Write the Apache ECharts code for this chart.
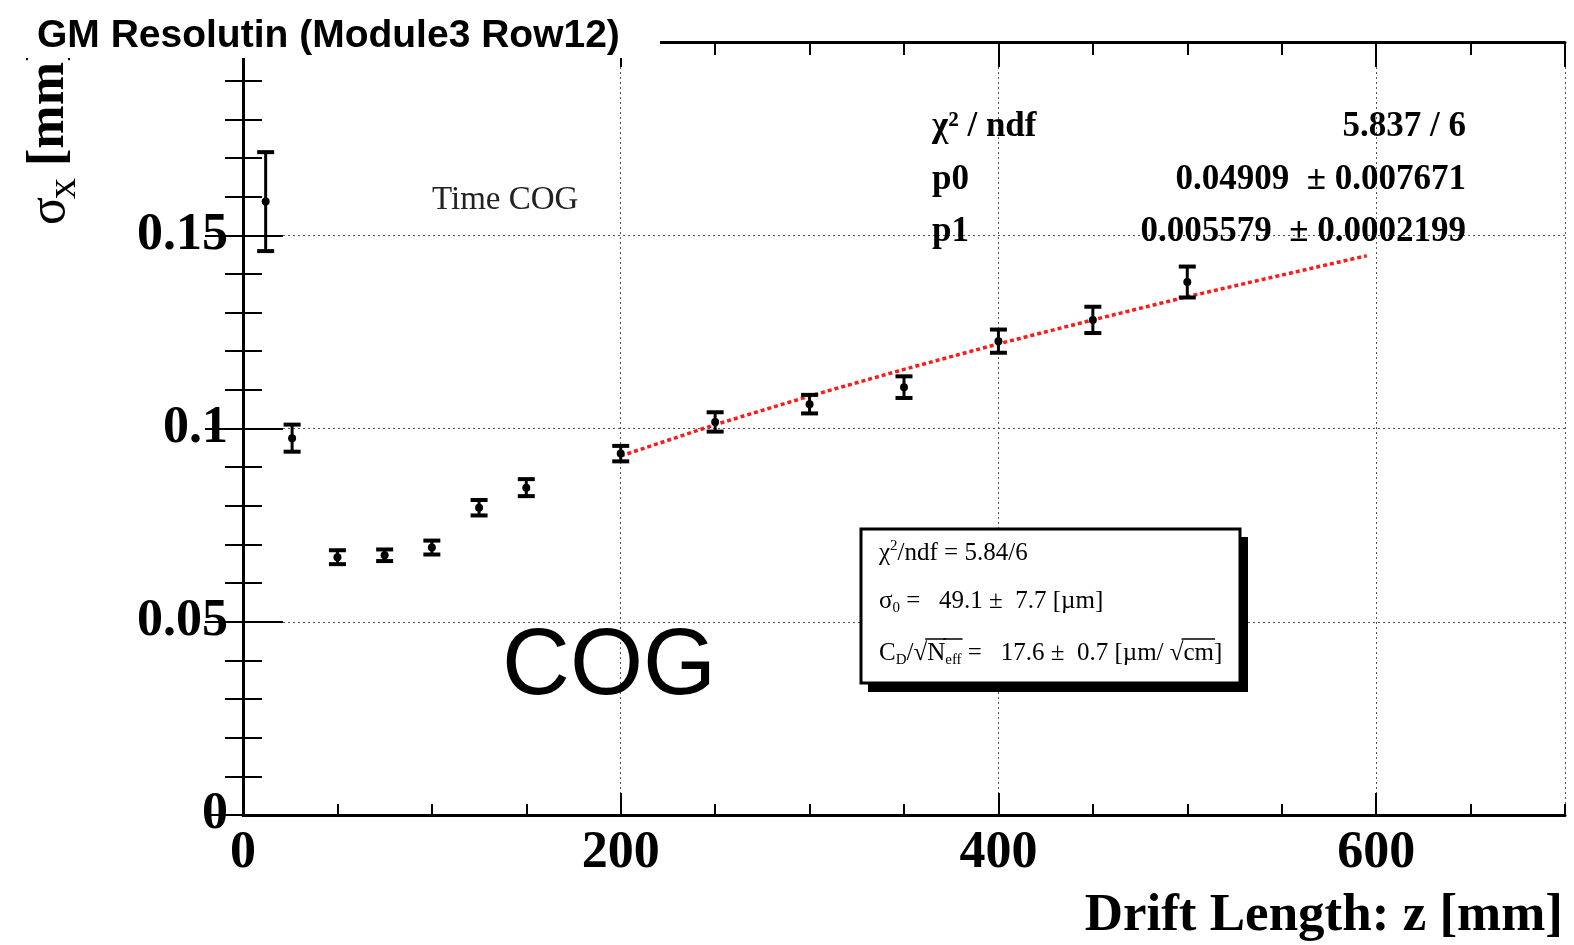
<!DOCTYPE html>
<html>
<head>
<meta charset="utf-8">
<script src="https://cdn.jsdelivr.net/npm/echarts@6/dist/echarts.min.js"></script>
<style>html,body{margin:0;padding:0;background:#fff;}#c{width:1574px;height:945px;}</style>
</head>
<body>
<div id="c"></div>
<script>
// ---- data ----
const driftLength = [12, 26, 50, 75, 100, 125, 150, 200, 250, 300, 350, 400, 450, 500];
const sigmaX      = [0.1587, 0.0975, 0.0667, 0.0672, 0.0692, 0.0795, 0.0847, 0.0935, 0.1017, 0.1063, 0.1107, 0.1226, 0.1281, 0.1379];
const sigmaErr    = [0.0128, 0.0035, 0.0018, 0.0015, 0.0018, 0.0020, 0.0022, 0.0020, 0.0025, 0.0024, 0.0028, 0.0030, 0.0034, 0.0040];
const fitZ        = [200, 250, 300, 350, 400, 450, 500, 550, 595];
const fitSigma    = [0.0929, 0.1010, 0.1084, 0.1153, 0.1219, 0.1281, 0.1341, 0.1397, 0.1447];
const statsNames  = ['χ² / ndf', 'p0', 'p1'];
const statsValues = ['5.837 / 6', '0.04909  ± 0.007671', '0.005579  ± 0.0002199'];
const titleText   = 'GM Resolutin (Module3 Row12)';
const xAxisName   = 'Drift Length: z [mm]';

const chart = echarts.init(document.getElementById('c'));
const SERIF = "'Liberation Serif', 'DejaVu Serif', serif";
const tickStyle = {color: '#000', width: 2};
const gridLine = {show: true, lineStyle: {type: [2, 3], color: '#555', width: 1}};
const labelStyle = {color: '#000', fontFamily: SERIF, fontWeight: 'bold', fontSize: 52};

const errData = driftLength.map((x, i) => [x, sigmaX[i], sigmaErr[i]]);
const fitData = fitZ.map((x, i) => [x, fitSigma[i]]);

// text measurement for laying out formula pieces
const mctx = document.createElement('canvas').getContext('2d');
function fontOf(size) { return size + "px 'Liberation Serif'"; }
function measure(t, size) { mctx.font = fontOf(size); return mctx.measureText(t).width; }
// segments: [text, size, dy, overline]
function formulaRun(x0, y, segs) {
  const out = [];
  let x = x0;
  segs.forEach(s => {
    const [t, size, dy, over] = s;
    const w = measure(t, size);
    out.push({type: 'text', z: 102, x: x, y: y + dy,
      style: {text: t, font: fontOf(size), fill: '#000', textAlign: 'left', textVerticalAlign: 'middle'}});
    if (over) {
      out.push({type: 'line', z: 102, shape: {x1: x - 2, y1: y - 14, x2: x + w + 1, y2: y - 14},
        style: {stroke: '#000', lineWidth: 1.5}});
    }
    x += w;
  });
  return out;
}

const statsGraphics = [];
statsNames.forEach((n, i) => {
  const yy = 127 + i * 52.5;
  statsGraphics.push({type: 'text', z: 100, x: 932, y: yy,
    style: {text: n, font: "bold 35px 'Liberation Serif'", fill: '#000', textAlign: 'left', textVerticalAlign: 'middle'}});
  statsGraphics.push({type: 'text', z: 100, x: 1466, y: yy,
    style: {text: statsValues[i], font: "bold 35px 'Liberation Serif'", fill: '#000', textAlign: 'right', textVerticalAlign: 'middle'}});
});

const boxText = [].concat(
  formulaRun(879, 553, [['χ', 25, 0], ['2', 15, -7], ['/ndf = 5.84/6', 25, 0]]),
  formulaRun(879, 601, [['σ', 25, 0], ['0', 15, 7], [' =   49.1 ±  7.7 [µm]', 25, 0]]),
  formulaRun(879, 653, [['C', 25, 0], ['D', 15, 7], ['/', 25, 0], ['√', 25, 0], ['N', 25, 0, true], ['eff', 15, 7, true],
                        [' =   17.6 ±  0.7 [µm/ ', 25, 0], ['√', 25, 0], ['cm', 25, 0, true], [']', 25, 0]])
);

const option = {
  animation: false,
  backgroundColor: '#fff',
  grid: {left: 243, right: 9, top: 42, bottom: 130, containLabel: false},
  xAxis: [
    {type: 'value', position: 'bottom', min: 0, max: 700, interval: 50,
     axisLine: {show: true, lineStyle: {color: '#000', width: 3}},
     axisTick: {show: true, inside: true, length: 11, lineStyle: tickStyle},
     axisLabel: {show: false}, splitLine: {show: false}},
    {type: 'value', position: 'bottom', min: 0, max: 700, interval: 200,
     axisLine: {show: false},
     axisTick: {show: true, inside: true, length: 22, lineStyle: tickStyle},
     axisLabel: Object.assign({show: true, margin: 13, showMaxLabel: false}, labelStyle),
     splitLine: gridLine},
    {type: 'value', position: 'top', min: 0, max: 700, interval: 50,
     axisLine: {show: true, lineStyle: {color: '#000', width: 3}},
     axisTick: {show: true, inside: true, length: 13, lineStyle: tickStyle},
     axisLabel: {show: false}, splitLine: {show: false}},
    {type: 'value', position: 'top', min: 0, max: 700, interval: 200,
     axisLine: {show: false},
     axisTick: {show: true, inside: true, length: 25, lineStyle: tickStyle},
     axisLabel: {show: false}, splitLine: {show: false}}
  ],
  yAxis: [
    {type: 'value', position: 'left', min: 0, max: 0.2, interval: 0.05,
     axisLine: {show: true, lineStyle: {color: '#000', width: 3}},
     axisTick: {show: true, inside: true, length: 40, lineStyle: tickStyle},
     minorTick: {show: true, splitNumber: 5, length: 19, lineStyle: tickStyle},
     axisLabel: Object.assign({show: true, margin: 15}, labelStyle),
     splitLine: gridLine},
    {type: 'value', position: 'right', min: 0, max: 0.2, interval: 0.05,
     axisLine: {show: true, lineStyle: {color: '#000', width: 3}},
     axisTick: {show: true, inside: true, length: 38, lineStyle: tickStyle},
     minorTick: {show: true, splitNumber: 5, length: 18, lineStyle: tickStyle},
     axisLabel: {show: false}, splitLine: {show: false}}
  ],
  series: [
    {type: 'line', xAxisIndex: 1, yAxisIndex: 0, data: fitData, showSymbol: false, symbol: 'none',
     lineStyle: {color: '#ff1a1a', width: 3.5, type: [4, 3]}, z: 3},
    {type: 'custom', xAxisIndex: 1, yAxisIndex: 0, data: errData, z: 4,
     renderItem: function (params, api) {
       const x = api.value(0), y = api.value(1), e = api.value(2);
       const c = api.coord([x, y]);
       const t = api.coord([x, y + e]);
       const b = api.coord([x, y - e]);
       const hw = 8.5;
       return {type: 'group', children: [
         {type: 'line', shape: {x1: c[0], y1: t[1], x2: c[0], y2: b[1]}, style: {stroke: '#000', lineWidth: 3}},
         {type: 'line', shape: {x1: c[0] - hw, y1: t[1], x2: c[0] + hw, y2: t[1]}, style: {stroke: '#000', lineWidth: 4}},
         {type: 'line', shape: {x1: c[0] - hw, y1: b[1], x2: c[0] + hw, y2: b[1]}, style: {stroke: '#000', lineWidth: 4}},
         {type: 'circle', shape: {cx: c[0], cy: c[1], r: 4}, style: {fill: '#000'}}
       ]};
     }}
  ],
  graphic: [
    // y axis name (drawn under the title box)
    {type: 'text', z: 99, x: 50, y: 225, rotation: Math.PI / 2,
     style: {text: 'σ', font: "52px 'Liberation Serif'", fill: '#000', textAlign: 'left', textVerticalAlign: 'middle'}},
    {type: 'text', z: 99, x: 64, y: 199, rotation: Math.PI / 2,
     style: {text: 'x', font: "42px 'Liberation Serif'", fill: '#000', textAlign: 'left', textVerticalAlign: 'middle'}},
    {type: 'text', z: 99, x: 50, y: 166, rotation: Math.PI / 2,
     style: {text: '[mm]', font: "bold 52px 'Liberation Serif'", fill: '#000', textAlign: 'left', textVerticalAlign: 'middle'}},
    // title box
    {type: 'rect', z: 100, shape: {x: 0, y: 0, width: 660, height: 58}, style: {fill: '#fff'}},
    {type: 'text', z: 101, x: 37, y: 36,
     style: {text: titleText, font: "bold 39px 'Liberation Sans'", fill: '#000', textAlign: 'left', textVerticalAlign: 'middle'}},
    // x axis name
    {type: 'text', z: 100, x: 1563, y: 916,
     style: {text: xAxisName, font: "bold 53px 'Liberation Serif'", fill: '#000', textAlign: 'right', textVerticalAlign: 'middle'}},
    // annotations
    {type: 'text', z: 100, x: 432, y: 200,
     style: {text: 'Time COG', font: "33px 'Liberation Serif'", fill: '#222', textAlign: 'left', textVerticalAlign: 'middle'}},
    {type: 'text', z: 100, x: 502, y: 668,
     style: {text: 'COG', font: "94px 'Liberation Sans'", fill: '#000', textAlign: 'left', textVerticalAlign: 'middle'}},
    ...statsGraphics,
    // fit result box with shadow
    {type: 'rect', z: 100, shape: {x: 868, y: 537, width: 380, height: 155}, style: {fill: '#000'}},
    {type: 'rect', z: 101, shape: {x: 861, y: 529, width: 379, height: 154}, style: {fill: '#fff', stroke: '#000', lineWidth: 3}},
    ...boxText
  ]
};
chart.setOption(option);
</script>
</body>
</html>
